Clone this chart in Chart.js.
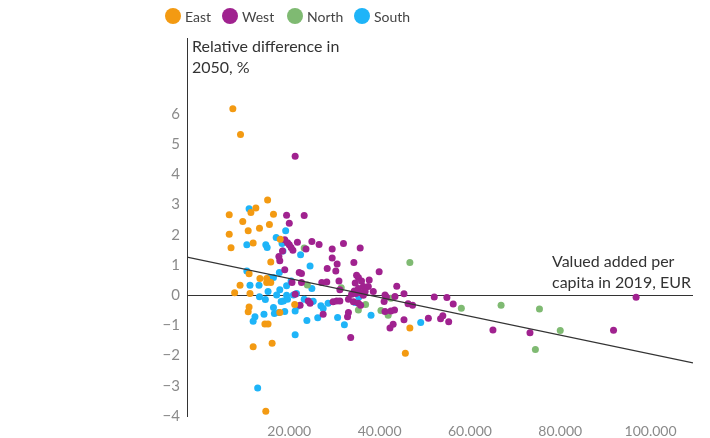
<!DOCTYPE html>
<html lang="en">
<head>
  <meta charset="UTF-8">
  <title>Relative difference in 2050 vs value added per capita</title>
  <script src="https://cdn.jsdelivr.net/npm/chart.js@4.4.1/dist/chart.umd.min.js"></script>
  <style>
    body { margin: 0; background: #fff; font-family: Lato, sans-serif; }
    #wrap { position: relative; width: 710px; height: 438px; }
    .legend-item { position: absolute; top: 7px; height: 18px; display: flex; align-items: center; font-size: 14px; color: #444; }
    .dot { width: 16px; height: 16px; border-radius: 50%; margin-right: 4px; }
    .axis-title { position: absolute; font-size: 16px; line-height: 21px; color: #333; white-space: nowrap; }
  </style>
</head>
<body>
  <div id="wrap">
    <canvas id="chart" width="710" height="438"></canvas>
    <div class="legend-item" style="left:165px"><span class="dot" style="background:#F39A12"></span>East</div>
    <div class="legend-item" style="left:222px"><span class="dot" style="background:#A0228F"></span>West</div>
    <div class="legend-item" style="left:287px"><span class="dot" style="background:#7FBA72"></span>North</div>
    <div class="legend-item" style="left:354px"><span class="dot" style="background:#1EB4F8"></span>South</div>
    <div class="axis-title" style="left:192px;top:35px">Relative difference in<br>2050, %</div>
    <div class="axis-title" style="left:552px;top:250px">Valued added per<br>capita in 2019, EUR</div>
  </div>

  <script>
    // value added per capita 2019 (EUR) and relative difference 2050 (%)
    const eastX = [7500, 9200, 15200, 12600, 11500, 6700, 16500, 9700, 15600, 13400, 10900, 6700, 12000, 7100, 18000, 15900, 11100, 9100, 11300, 7900, 13500, 15000, 15000, 15900, 11100, 10900, 14600, 15300, 12000, 16200, 14800, 17900, 21200, 46700, 45700];
    const eastY = [6.17, 5.32, 3.15, 2.89, 2.74, 2.66, 2.68, 2.44, 2.34, 2.22, 2.13, 2.02, 1.73, 1.57, 1.85, 1.10, 0.71, 0.33, 0.06, 0.08, 0.55, 0.55, 0.42, 0.42, -0.39, -0.55, -0.95, -0.95, -1.71, -1.59, -3.84, -0.57, -0.31, -1.09, -1.92];

    const westX = [21300, 19400, 23300, 20000, 21800, 19000, 19600, 20000, 20400, 20800, 18500, 17700, 17900, 23700, 25000, 26600, 29500, 32000, 35700, 29500, 30600, 34300, 28400, 30300, 34900, 35300, 39900, 27200, 28300, 31000, 34600, 36000, 37700, 36400, 37500, 43800, 31200, 34400, 35300, 36800, 38600, 33800, 34700, 35700, 45400, 36400, 43400, 41200, 24200, 24600, 29700, 30500, 31200, 33100, 34200, 35300, 35800, 41000, 41500, 46300, 47300, 27500, 33100, 32900, 41200, 42500, 43300, 43000, 42300, 45400, 33600, 52100, 54900, 56300, 50800, 53500, 54000, 55300, 65100, 73300, 91800, 96800, 19000, 22200, 22700, 20600, 22700, 21300, 22400];
    const westY = [4.60, 2.65, 2.64, 2.38, 1.75, 1.84, 1.74, 1.67, 1.58, 1.49, 1.46, 1.28, 1.14, 1.53, 1.78, 1.68, 1.53, 1.71, 1.56, 1.23, 1.03, 1.08, 0.88, 0.80, 0.66, 0.59, 0.78, 0.42, 0.44, 0.47, 0.40, 0.47, 0.50, 0.29, 0.29, 0.30, 0.18, 0.14, 0.22, 0.12, 0.12, 0.03, 0.06, 0.09, 0.05, 0.00, -0.04, 0.01, -0.19, -0.27, -0.22, -0.19, -0.19, -0.13, -0.22, -0.27, -0.33, -0.21, -0.06, -0.28, -0.33, -0.63, -0.57, -0.71, -0.54, -0.52, -0.49, -0.96, -1.09, -0.81, -1.40, -0.06, -0.08, -0.29, -0.76, -0.78, -0.68, -0.88, -1.15, -1.24, -1.16, -0.07, 0.84, 0.75, 0.72, 0.42, 0.42, 0.03, -0.33];

    const northX = [46700, 58100, 66900, 75400, 80000, 74500, 42500, 41900, 40300, 36900, 35300, 36500, 31500, 24000, 23300];
    const northY = [1.08, -0.43, -0.33, -0.46, -1.17, -1.80, -0.10, -0.66, -0.51, -0.31, -0.49, 0.09, 0.25, 0.34, 1.56];

    const southX = [11100, 19200, 17100, 18400, 10600, 14800, 15100, 22500, 18600, 24600, 10600, 17800, 16500, 15700, 11300, 13300, 19400, 20400, 17900, 15300, 13400, 14700, 17200, 19400, 18700, 18200, 19600, 20900, 16500, 16700, 17700, 19000, 14400, 12400, 12000, 21300, 21800, 23900, 21300, 13000, 25000, 25300, 23300, 27000, 27500, 28600, 26300, 30700, 32200, 34600, 35400, 38100, 49100, 21600, 25000];
    const southY = [2.86, 2.13, 1.91, 1.71, 1.67, 1.67, 1.58, 1.34, 1.46, 0.97, 0.80, 0.75, 0.59, 0.59, 0.33, 0.33, 0.31, 0.47, 0.18, 0.12, -0.05, -0.14, 0.01, 0.00, -0.19, -0.21, -0.13, 0.01, -0.41, -0.61, -0.57, -0.54, -0.63, -0.71, -0.86, -0.52, -0.37, -0.84, -1.31, -3.07, 0.22, -0.20, -0.13, -0.35, -0.44, -0.27, -0.75, -0.74, -0.98, -0.24, -0.06, -0.66, -0.90, 0.06, -0.21];

    // trend line end points
    const trendX = [-2650, 109400];
    const trendY = [1.26, -2.24];

    const xTicks = [20000, 40000, 60000, 80000, 100000];
    const yTicks = [-4, -3, -2, -1, 0, 1, 2, 3, 4, 5, 6];

    const toPoints = (xs, ys) => xs.map((x, i) => ({ x: x, y: ys[i] }));

    const dotStyle = color => ({
      backgroundColor: color,
      borderWidth: 0,
      pointRadius: 3.5,
      pointHoverRadius: 3.5
    });

    Chart.defaults.font.family = "Lato, sans-serif";

    new Chart(document.getElementById("chart"), {
      type: "scatter",
      data: {
        datasets: [
          {
            type: "line",
            label: "Trend",
            data: toPoints(trendX, trendY),
            borderColor: "#333",
            borderWidth: 1.2,
            pointRadius: 0,
            fill: false
          },
          { label: "East", data: toPoints(eastX, eastY), ...dotStyle("#F39A12") },
          { label: "West", data: toPoints(westX, westY), ...dotStyle("#A0228F") },
          { label: "North", data: toPoints(northX, northY), ...dotStyle("#7FBA72") },
          { label: "South", data: toPoints(southX, southY), ...dotStyle("#1EB4F8") }
        ]
      },
      options: {
        responsive: false,
        animation: false,
        layout: { padding: { left: 0, right: 17, top: 38.5, bottom: 0 } },
        plugins: { legend: { display: false }, tooltip: { enabled: false } },
        scales: {
          x: {
            type: "linear",
            min: trendX[0],
            max: trendX[1],
            grid: { display: false, drawTicks: false },
            border: { display: false },
            afterBuildTicks: scale => { scale.ticks = xTicks.map(v => ({ value: v })); },
            afterFit: scale => { scale.height = 22; },
            ticks: {
              padding: 7,
              color: "#8a8a8a",
              font: { size: 14 },
              maxRotation: 0,
              callback: v => String(v).replace(/\B(?=(\d{3})+(?!\d))/g, ".")
            }
          },
          y: {
            min: -4,
            max: 8.5,
            border: { display: true, color: "#333", width: 1 },
            grid: {
              drawTicks: false,
              color: ctx => (ctx.tick && ctx.tick.value === 0 ? "#333" : "rgba(0,0,0,0)"),
              lineWidth: 1
            },
            afterBuildTicks: scale => { scale.ticks = yTicks.map(v => ({ value: v })); },
            afterFit: scale => { scale.width = 187; },
            ticks: {
              padding: 7,
              color: "#8a8a8a",
              font: { size: 15 },
              callback: v => String(v).replace("-", "\u2212")
            }
          }
        }
      }
    });
  </script>
</body>
</html>
